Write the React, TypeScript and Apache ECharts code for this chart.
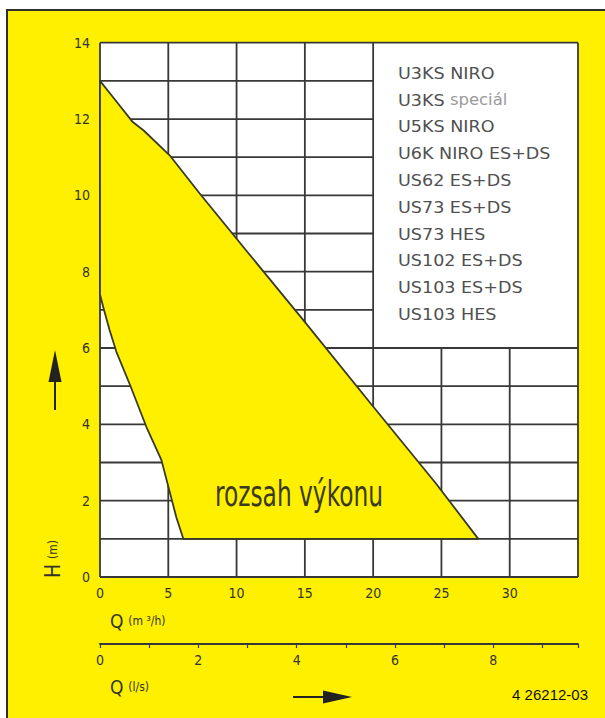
import React, { useEffect, useRef } from "react";
import * as echarts from "echarts";

// Performance envelope: upper boundary (Q m3/h, H m)
const upperQ = [0, 1, 2.4, 3.2, 5.1, 7.3, 10.9, 14.8, 19.7, 24.6, 27.7];
const upperH = [13, 12.55, 11.92, 11.7, 11.05, 10.05, 8.47, 6.77, 4.6, 2.45, 1.0];
// left (lower) boundary, from bottom to top
const lowerQ = [6.1, 5.6, 5.2, 4.5, 3.4, 2.2, 1.2, 0.7, 0.24, 0];
const lowerH = [1.0, 1.55, 2.1, 3.06, 3.93, 5.03, 5.9, 6.47, 7.07, 7.4];

// grid layout of the drawing (axis units)
const qMax = 35;
const hMax = 14;
const vLinesFull = [5, 10, 15, 20];
const vLinesLow = [25, 30];
const hLinesFull = [1, 2, 3, 4, 5, 6];
const hLinesLeft = [7, 8, 9, 10, 11, 12, 13];
const legendTopH = 6;
const legendLeftQ = 20;

const legendItems = [
  ["U3KS NIRO", ""],
  ["U3KS", " speciál"],
  ["U5KS NIRO", ""],
  ["U6K NIRO ES+DS", ""],
  ["US62 ES+DS", ""],
  ["US73 ES+DS", ""],
  ["US73 HES", ""],
  ["US102 ES+DS", ""],
  ["US103 ES+DS", ""],
  ["US103 HES", ""],
];

const M3H_PER_LS = 3.6;
const FONT = "DejaVu Sans Condensed";
const DARK = "#333326";
const LINE = "#383838";
const YELLOW = "#FFF000";

export default function App() {
  const ref = useRef<HTMLDivElement>(null);
  useEffect(() => {
    document.body.style.margin = "0";
    const chart = echarts.init(ref.current!, undefined, { renderer: "svg" });

    const lines: number[][] = [];
    lines.push([0, 0, qMax, 0], [0, hMax, qMax, hMax], [0, 0, 0, hMax], [qMax, 0, qMax, hMax]);
    vLinesFull.forEach((q) => lines.push([q, 0, q, hMax]));
    vLinesLow.forEach((q) => lines.push([q, 0, q, legendTopH]));
    hLinesFull.forEach((h) => lines.push([0, h, qMax, h]));
    hLinesLeft.forEach((h) => lines.push([0, h, legendLeftQ, h]));

    const poly: number[][] = [];
    upperQ.forEach((q, i) => poly.push([q, upperH[i]]));
    lowerQ.forEach((q, i) => poly.push([q, lowerH[i]]));

    const legendGraphics = legendItems.map((it, i) => ({
      type: "text",
      x: 398,
      y: 73 + i * 26.8,
      z: 100,
      scaleX: 1.22,
      style: {
        text: it[1] ? `{a|${it[0]}}{b|${it[1]}}` : `{a|${it[0]}}`,
        font: `16px "${FONT}"`,
        fill: "#555555",
        verticalAlign: "middle",
        align: "left",
        rich: {
          a: { fontFamily: FONT, fontSize: 16, fill: "#505050", color: "#505050" },
          b: { fontFamily: FONT, fontSize: 15, fill: "#9a9a9a", color: "#9a9a9a" },
        },
      },
    }));

    const option: any = {
      animation: false,
      backgroundColor: "#ffffff",
      grid: [
        { left: 100, right: 27, top: 42.7, bottom: 141, containLabel: false },
        { left: 100, right: 27, top: 643, height: 1, containLabel: false },
      ],
      xAxis: [
        {
          type: "value",
          gridIndex: 0,
          min: 0,
          max: qMax,
          interval: 5,
          axisLine: { show: false },
          axisTick: { show: false },
          splitLine: { show: false },
          axisLabel: {
            color: DARK,
            fontFamily: FONT,
            fontSize: 14,
            margin: 9,
            formatter: (v: number) => (v === qMax ? "" : String(v)),
          },
        },
        {
          type: "value",
          gridIndex: 1,
          min: 0,
          max: qMax / M3H_PER_LS,
          interval: 1,
          axisLine: { show: true, onZero: false, lineStyle: { color: LINE, width: 1.8 } },
          axisTick: { show: true, length: 4, lineStyle: { color: LINE, width: 1.2 } },
          splitLine: { show: false },
          axisLabel: {
            color: DARK,
            fontFamily: FONT,
            fontSize: 14,
            margin: 9,
            formatter: (v: number) => (Math.abs(v % 2) < 1e-9 ? String(v) : ""),
          },
        },
      ],
      yAxis: [
        {
          type: "value",
          gridIndex: 0,
          min: 0,
          max: hMax,
          interval: 2,
          axisLine: { show: false },
          axisTick: { show: false },
          splitLine: { show: false },
          axisLabel: { color: DARK, fontFamily: FONT, fontSize: 14, margin: 10 },
        },
        { type: "value", gridIndex: 1, show: false, min: 0, max: 1 },
      ],
      graphic: [
        {
          type: "rect",
          z: -10,
          shape: { x: 7, y: 10, width: 640, height: 740 },
          style: { fill: YELLOW, stroke: "#2e2e2e", lineWidth: 2 },
        },
        ...legendGraphics,
        {
          type: "text",
          x: 299,
          y: 493,
          z: 100,
          scaleX: 0.72,
          style: {
            text: "rozsah výkonu",
            font: `36px "${FONT}"`,
            fill: "#3a3a1c",
            align: "center",
            verticalAlign: "middle",
          },
        },
        {
          type: "text",
          x: 110,
          y: 621,
          z: 100,
          style: {
            text: "{q|Q} {u|(m ³/h)}",
            font: `17px "${FONT}"`,
            fill: DARK,
            align: "left",
            verticalAlign: "middle",
            rich: {
              q: { fontFamily: FONT, fontSize: 19, color: DARK, fill: DARK },
              u: { fontFamily: FONT, fontSize: 12, color: DARK, fill: DARK },
            },
          },
        },
        {
          type: "text",
          x: 110,
          y: 687,
          z: 100,
          style: {
            text: "{q|Q} {u|(l/s)}",
            font: `17px "${FONT}"`,
            fill: DARK,
            align: "left",
            verticalAlign: "middle",
            rich: {
              q: { fontFamily: FONT, fontSize: 19, color: DARK, fill: DARK },
              u: { fontFamily: FONT, fontSize: 12, color: DARK, fill: DARK },
            },
          },
        },
        {
          type: "text",
          x: 53,
          y: 578,
          z: 100,
          rotation: Math.PI / 2,
          style: {
            text: "{q|H} {u|(m)}",
            font: `17px "${FONT}"`,
            fill: DARK,
            align: "left",
            verticalAlign: "middle",
            rich: {
              q: { fontFamily: FONT, fontSize: 21, color: DARK, fill: DARK },
              u: { fontFamily: FONT, fontSize: 12, color: DARK, fill: DARK },
            },
          },
        },
        {
          type: "line",
          z: 100,
          shape: { x1: 55, y1: 410, x2: 55, y2: 375 },
          style: { stroke: "#222", lineWidth: 2 },
        },
        {
          type: "polygon",
          z: 100,
          shape: { points: [[55, 350], [48.5, 382], [61.5, 382]] },
          style: { fill: "#222" },
        },
        {
          type: "line",
          z: 100,
          shape: { x1: 293, y1: 697, x2: 330, y2: 697 },
          style: { stroke: "#222", lineWidth: 2 },
        },
        {
          type: "polygon",
          z: 100,
          shape: { points: [[352, 697], [323, 690.5], [323, 703.5]] },
          style: { fill: "#222" },
        },
        {
          type: "text",
          x: 588,
          y: 694,
          z: 100,
          style: {
            text: "4 26212-03",
            font: `15px "Liberation Sans"`,
            fill: "#111",
            align: "right",
            verticalAlign: "middle",
          },
        },
      ],
      series: [
        {
          type: "custom",
          xAxisIndex: 0,
          yAxisIndex: 0,
          z: 1,
          silent: true,
          data: [[0, 0, qMax, hMax]],
          renderItem: (params: any, api: any) => {
            const p1 = api.coord([api.value(0), api.value(3)]);
            const p2 = api.coord([api.value(2), api.value(1)]);
            return {
              type: "rect",
              shape: { x: p1[0], y: p1[1], width: p2[0] - p1[0], height: p2[1] - p1[1] },
              style: { fill: "#ffffff" },
            };
          },
        },
        {
          type: "custom",
          xAxisIndex: 0,
          yAxisIndex: 0,
          z: 2,
          silent: true,
          data: lines,
          renderItem: (params: any, api: any) => {
            const p1 = api.coord([api.value(0), api.value(1)]);
            const p2 = api.coord([api.value(2), api.value(3)]);
            return {
              type: "line",
              shape: { x1: p1[0], y1: p1[1], x2: p2[0], y2: p2[1] },
              style: { stroke: LINE, lineWidth: 1.8 },
            };
          },
        },
        {
          type: "custom",
          xAxisIndex: 0,
          yAxisIndex: 0,
          z: 3,
          silent: true,
          data: [[0, 0]],
          renderItem: (params: any, api: any) => {
            const pts = poly.map((p) => api.coord(p));
            return {
              type: "polygon",
              shape: { points: pts },
              style: { fill: YELLOW, stroke: "#3a3a22", lineWidth: 1.8, lineJoin: "round" },
            };
          },
        },
      ],
    };
    chart.setOption(option);
    return () => chart.dispose();
  }, []);
  return <div ref={ref} style={{ width: 605, height: 718 }} />;
}
